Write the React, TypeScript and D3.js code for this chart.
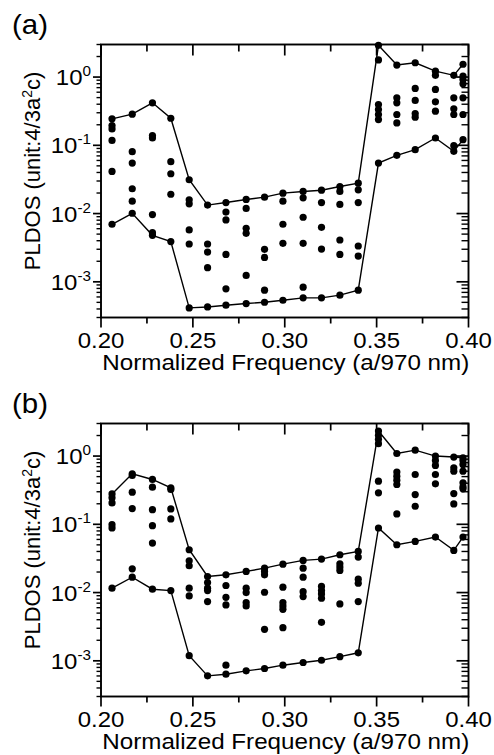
import React from "react";
import * as d3 from "d3";

const freqs = [0.206, 0.217, 0.228, 0.238, 0.248, 0.258, 0.268, 0.279, 0.289, 0.299, 0.310, 0.320, 0.330, 0.340, 0.351, 0.361, 0.371, 0.382, 0.392, 0.397];

const aUpper = [0.244, 0.286, 0.42, 0.249, 0.0313, 0.0133, 0.0145, 0.0161, 0.0174, 0.0199, 0.0211, 0.0220, 0.0249, 0.0279, 2.92, 1.5, 1.62, 1.22, 1.06, 1.54];
const aLower = [0.00697, 0.0101, 0.0048, 0.00389, 0.000415, 0.000428, 0.000454, 0.00048, 0.000502, 0.000537, 0.000582, 0.000582, 0.000637, 0.000755, 0.055, 0.0713, 0.0863, 0.128, 0.0816, 0.121];
const aMid = [
  [0.195, 0.174, 0.118, 0.0415],
  [0.0807, 0.055, 0.0231, 0.0152],
  [0.139, 0.128, 0.00966, 0.00525],
  [0.0575, 0.0383, 0.0192],
  [0.0159, 0.0139, 0.00575, 0.00358],
  [0.00358, 0.00273, 0.00161],
  [0.0105, 0.00808, 0.00252, 0.000789],
  [0.0119, 0.00609, 0.00513, 0.00124],
  [0.00299, 0.00228, 0.000755],
  [0.0152, 0.00697, 0.00366],
  [0.017, 0.00883, 0.00366, 0.000835],
  [0.0145, 0.00629, 0.00302],
  [0.0211, 0.0136, 0.0041, 0.00252],
  [0.0223, 0.0145, 0.00335, 0.00238],
  [1.78, 0.396, 0.335, 0.283, 0.238],
  [0.497, 0.42, 0.283, 0.213],
  [0.681, 0.454, 0.292, 0.258],
  [1.06, 0.659, 0.434, 0.316],
  [0.497, 0.342, 0.283, 0.0989],
  [1.03, 0.924, 0.798, 0.497, 0.283],
];

const bUpper = [0.279, 0.55, 0.454, 0.342, 0.0424, 0.0172, 0.0182, 0.0204, 0.0228, 0.0261, 0.0296, 0.0309, 0.0358, 0.0401, 2.33, 1.09, 1.22, 1.0, 0.967, 0.945];
const bLower = [0.0116, 0.0168, 0.0112, 0.0107, 0.00119, 0.000602, 0.000637, 0.000713, 0.000771, 0.000863, 0.000944, 0.00102, 0.00115, 0.00131, 0.0883, 0.0502, 0.0562, 0.0651, 0.0415, 0.0651];
const bMid = [
  [0.244, 0.206, 0.0989, 0.0883],
  [0.52, 0.296, 0.17, 0.0223],
  [0.35, 0.164, 0.0955, 0.0531],
  [0.324, 0.168, 0.12],
  [0.0292, 0.0247, 0.0116, 0.00893],
  [0.014, 0.0116, 0.0107, 0.00738],
  [0.0127, 0.00853, 0.00659, 0.000863],
  [0.0116, 0.01, 0.00713, 0.00637],
  [0.0204, 0.0182, 0.0101, 0.00289],
  [0.012, 0.00713, 0.00637, 0.00569, 0.00306],
  [0.0228, 0.0168, 0.0103, 0.00873],
  [0.0123, 0.0107, 0.00955, 0.00826, 0.00366],
  [0.0264, 0.0236, 0.0211, 0.00681],
  [0.0331, 0.0157, 0.0137, 0.00738],
  [2.01, 1.76, 1.52, 0.429, 0.289],
  [0.582, 0.508, 0.444, 0.383, 0.142],
  [0.537, 0.273, 0.184],
  [0.863, 0.729, 0.537, 0.392],
  [0.673, 0.601, 0.282, 0.199],
  [0.863, 0.754, 0.601, 0.406, 0.354, 0.331],
];

const xMajor = [0.2, 0.25, 0.3, 0.35, 0.4];
const xMinor = [0.225, 0.275, 0.325, 0.375];
const yMajorExp = [-3, -2, -1, 0];
const xTitle = "Normalized Frequency (a/970 nm)";

const FONT = "'Liberation Sans', Arial, Helvetica, sans-serif";
const SX = 1.09;
const LEFT = 101;
const RIGHT = 468.5;
const PH = 273;

function Panel({ top, upper, lower, mid, label }: { top: number; upper: number[]; lower: number[]; mid: number[][]; label: string }) {
  const x = d3.scaleLinear().domain([0.2, 0.4]).range([LEFT, RIGHT]);
  const y = d3.scaleLog().domain([3e-4, 3]).range([top + PH, top]);
  const bottom = top + PH;
  const line = d3
    .line<[number, number]>()
    .x((d) => x(d[0]))
    .y((d) => y(d[1]));
  const upPts = freqs.map((f, i) => [f, upper[i]] as [number, number]);
  const loPts = freqs.map((f, i) => [f, lower[i]] as [number, number]);
  const dots: [number, number][] = [];
  freqs.forEach((f, i) => {
    dots.push([f, upper[i]]);
    dots.push([f, lower[i]]);
    mid[i].forEach((v) => dots.push([f, v]));
  });
  const yMinor: number[] = [];
  for (let e = -4; e <= 0; e++) {
    for (let k = 2; k <= 9; k++) {
      const v = k * Math.pow(10, e);
      if (v >= 3e-4 - 1e-12 && v <= 3 + 1e-9) yMinor.push(v);
    }
  }
  const stroke = "#000";
  return (
    <g>
      <text
        transform={`translate(12,${top - 11}) scale(${SX},1)`}
        fontSize={27}
        fontFamily={FONT}
      >
        {label}
      </text>
      <path d={line(upPts) || ""} fill="none" stroke={stroke} strokeWidth={1.4} />
      <path d={line(loPts) || ""} fill="none" stroke={stroke} strokeWidth={1.4} />
      {dots.map((d, i) => (
        <circle key={i} cx={x(d[0])} cy={y(d[1])} r={3.6} fill="#000" />
      ))}
      <rect x={LEFT} y={top} width={RIGHT - LEFT} height={PH} fill="none" stroke={stroke} strokeWidth={1.9} />
      {xMajor.map((v) => (
        <g key={"xm" + v}>
          <line x1={x(v)} x2={x(v)} y1={bottom} y2={bottom + 10} stroke={stroke} strokeWidth={1.7} />
          <line x1={x(v)} x2={x(v)} y1={top} y2={top + 11} stroke={stroke} strokeWidth={1.7} />
          <text
            transform={`translate(${x(v)},${bottom + 30}) scale(${SX},1)`}
            textAnchor="middle"
            fontSize={22}
            fontFamily={FONT}
          >
            {d3.format(".2f")(v)}
          </text>
        </g>
      ))}
      {xMinor.map((v) => (
        <g key={"xn" + v}>
          <line x1={x(v)} x2={x(v)} y1={bottom} y2={bottom + 6} stroke={stroke} strokeWidth={1.7} />
          <line x1={x(v)} x2={x(v)} y1={top} y2={top + 7} stroke={stroke} strokeWidth={1.7} />
        </g>
      ))}
      <text
        transform={`translate(${(LEFT + RIGHT) / 2 + 1},${bottom + 52.5}) scale(${SX + 0.01},1)`}
        textAnchor="middle"
        fontSize={22}
        fontFamily={FONT}
      >
        {xTitle}
      </text>
      {yMajorExp.map((e) => {
        const v = Math.pow(10, e);
        return (
          <g key={"ym" + e}>
            <line x1={LEFT - 8} x2={LEFT} y1={y(v)} y2={y(v)} stroke={stroke} strokeWidth={1.7} />
            <line x1={RIGHT - 12} x2={RIGHT} y1={y(v)} y2={y(v)} stroke={stroke} strokeWidth={1.7} />
            <text
              transform={`translate(${LEFT - 10},${y(v) + 8}) scale(${SX},1)`}
              textAnchor="end"
              fontSize={22}
              fontFamily={FONT}
            >
              10
              <tspan dy={-9} fontSize={14}>
                {String(e)}
              </tspan>
            </text>
          </g>
        );
      })}
      {yMinor.map((v, i) => (
        <g key={"yn" + i}>
          <line x1={LEFT - 4.5} x2={LEFT} y1={y(v)} y2={y(v)} stroke={stroke} strokeWidth={1.4} />
          <line x1={RIGHT - 7} x2={RIGHT} y1={y(v)} y2={y(v)} stroke={stroke} strokeWidth={1.4} />
        </g>
      ))}
      <text
        transform={`translate(40,${top + 126.5}) rotate(-90)`}
        textAnchor="middle"
        fontSize={22}
        fontFamily={FONT}
      >
        PLDOS (unit:4/3a
        <tspan dy={-8} fontSize={14}>
          2
        </tspan>
        <tspan dy={8}>c)</tspan>
      </text>
    </g>
  );
}

export default function App() {
  return (
    <svg
      width={494}
      height={755}
      viewBox="0 0 494 755"
      style={{ position: "absolute", left: 0, top: 0, background: "#fff" }}
    >
      <rect width={494} height={755} fill="#fff" />
      <Panel top={44.5} upper={aUpper} lower={aLower} mid={aMid} label="(a)" />
      <Panel top={423.5} upper={bUpper} lower={bLower} mid={bMid} label="(b)" />
    </svg>
  );
}
